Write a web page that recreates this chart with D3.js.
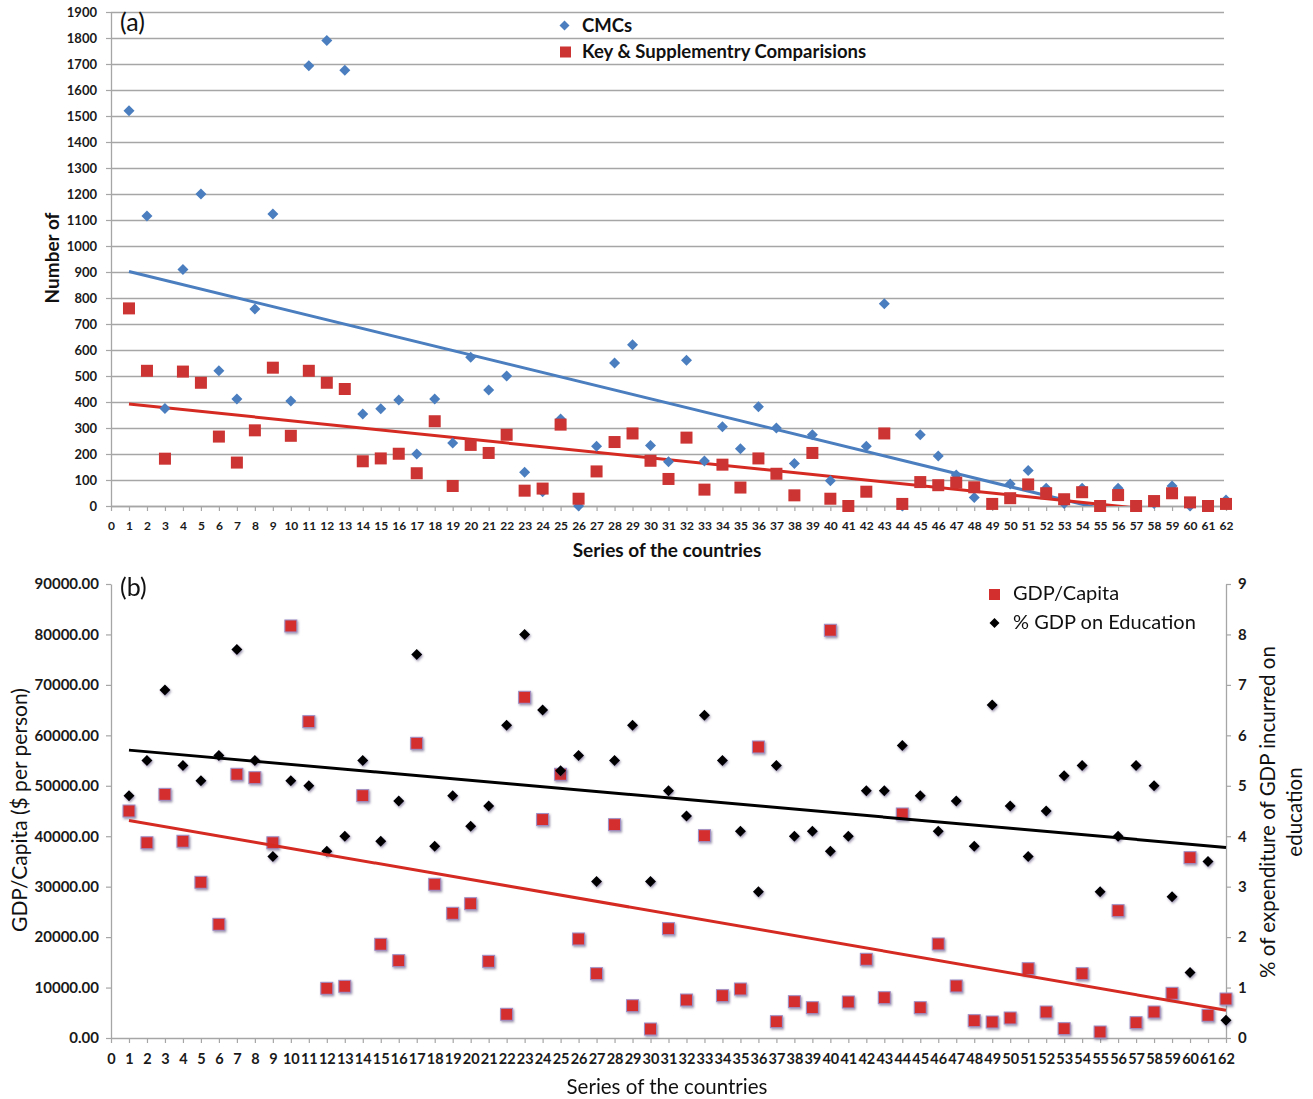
<!DOCTYPE html>
<html>
<head>
<meta charset="utf-8">
<script src="https://cdn.jsdelivr.net/npm/d3@7/dist/d3.min.js"></script>
<style>
  body { margin: 0; background: #ffffff; }
  svg { display: block; font-family: Lato, "Open Sans", sans-serif; }
</style>
</head>
<body>
<script>
// ---------- DATA ----------
const countries = d3.range(1, 63);            // series of the countries 1..62
const xTickValues = d3.range(0, 63);

// Panel (a)
const cmcs = [1520,1115,375,910,1200,520,412,758,1123,404,
              1693,1790,1676,354,374,408,200,412,242,572,
              446,500,130,55,335,0,230,550,620,233,
              170,561,173,305,220,382,300,163,274,97,
              0,230,778,0,274,192,119,33,10,85,
              137,68,10,68,0,68,0,10,77,0,
              0,23];
const keyComparisons = [760,520,182,517,474,267,167,291,532,270,
              520,474,450,172,183,201,126,326,77,235,
              204,274,59,67,313,28,133,246,279,174,
              104,263,63,159,71,183,124,41,204,28,
              0,55,279,8,92,80,90,72,8,30,
              83,49,26,53,0,42,0,19,49,14,
              0,8];
const topYTicks = d3.range(0, 2000, 100);

// Panel (b)
const gdpPerCapita = [45000,38700,48300,39000,30870,22540,52280,51600,38700,81680,
              62710,9850,10250,48040,18580,15330,58420,30470,24720,26620,
              15200,4700,67540,43300,52280,19630,12750,42290,6400,1780,
              21670,7530,40110,8390,9710,57690,3230,7200,6010,80830,
              7140,15600,7990,44410,6010,18640,10310,3430,3170,3965,
              13740,5150,1850,12750,1190,25240,3040,5150,8860,35750,
              4500,7730];
const eduPct = [4.8,5.5,6.9,5.4,5.1,5.6,7.7,5.5,3.6,5.1,
              5.0,3.7,4.0,5.5,3.9,4.7,7.6,3.8,4.8,4.2,
              4.6,6.2,8.0,6.5,5.3,5.6,3.1,5.5,6.2,3.1,
              4.9,4.4,6.4,5.5,4.1,2.9,5.4,4.0,4.1,3.7,
              4.0,4.9,4.9,5.8,4.8,4.1,4.7,3.8,6.6,4.6,
              3.6,4.5,5.2,5.4,2.9,4.0,5.4,5.0,2.8,1.3,
              3.5,0.35];
const gdpTicks = d3.range(0, 100000, 10000);
const pctTicks = d3.range(0, 10, 1);

const legendA = ["CMCs", "Key & Supplementry Comparisions"];
const legendB = ["GDP/Capita", "% GDP on Education"];

// ---------- HELPERS ----------
function linearFit(xs, ys) {
  const mx = d3.mean(xs), my = d3.mean(ys);
  let sxy = 0, sxx = 0;
  xs.forEach((x, i) => { sxy += (x - mx) * (ys[i] - my); sxx += (x - mx) * (x - mx); });
  const b = sxy / sxx;
  return x => my + b * (x - mx);
}

const GRID = "#a6a6a6";
const BLUE = "#4a7ebf";
const RED = "#cc3333";
const RED2 = "#d42a22";

const svg = d3.select("body").append("svg").attr("width", 1313).attr("height", 1099);
const defs = svg.append("defs");
const sh = defs.append("filter").attr("id", "shadow").attr("x", "-50%").attr("y", "-50%").attr("width", "200%").attr("height", "200%");
sh.append("feDropShadow").attr("dx", 1).attr("dy", 1.5).attr("stdDeviation", 1)
  .attr("flood-color", "#4a3a6a").attr("flood-opacity", 0.55);

function styleAxis(g, fontSize, weight) {
  g.selectAll(".domain").attr("stroke", GRID).attr("stroke-width", 1.3);
  g.selectAll(".tick line").attr("stroke", GRID).attr("stroke-width", 1.2);
  g.selectAll(".tick text").attr("fill", "#1a1a1a").style("font-size", fontSize + "px")
    .style("font-weight", weight).style("font-family", "Lato, sans-serif");
}

function diamond(sel, x, y, half, fill) {
  const s = half * Math.SQRT2;
  sel.append("rect").attr("x", -s / 2).attr("y", -s / 2).attr("width", s).attr("height", s)
    .attr("transform", `translate(${x},${y}) rotate(45)`).attr("fill", fill);
}

// ---------- PANEL (a) ----------
const xA = d3.scaleLinear().domain([0, 62]).range([111, 1226]);
const yA = d3.scaleLinear().domain([0, 1900]).range([506, 12]);
const gA = svg.append("g");

// gridlines
gA.append("g").attr("transform", `translate(${xA(0)},0)`)
  .call(d3.axisLeft(yA).tickValues(topYTicks).tickSize(-(1224 - 111)).tickFormat(""))
  .call(g => { g.select(".domain").remove(); g.selectAll(".tick line").attr("stroke", GRID).attr("stroke-width", 1.4); });

// y axis
gA.append("g").attr("transform", `translate(${xA(0)},0)`)
  .call(d3.axisLeft(yA).tickValues(topYTicks).tickSize(5).tickSizeOuter(0).tickPadding(9).tickFormat(d3.format("d")))
  .call(g => styleAxis(g, 13, "bold"));

// x axis
gA.append("g").attr("transform", `translate(0,${yA(0)})`)
  .call(d3.axisBottom(xA).tickValues(xTickValues).tickSize(5).tickSizeOuter(0).tickPadding(10).tickFormat(d3.format("d")))
  .call(g => styleAxis(g, 12, "bold"));

// trendlines (clipped to plot area)
defs.append("clipPath").attr("id", "clipA").append("rect")
  .attr("x", xA(0)).attr("y", yA(1900)).attr("width", xA(62) - xA(0)).attr("height", yA(0) - yA(1900));
const fitCmc = linearFit(countries, cmcs);
const fitKey = linearFit(countries, keyComparisons);
const lineA = f => d3.line().x(d => xA(d)).y(d => yA(f(d)))([1, 62]);
gA.append("path").attr("d", lineA(fitCmc)).attr("stroke", BLUE).attr("stroke-width", 3).attr("fill", "none").attr("clip-path", "url(#clipA)");
gA.append("path").attr("d", lineA(fitKey)).attr("stroke", RED2).attr("stroke-width", 3).attr("fill", "none").attr("clip-path", "url(#clipA)");

// markers
const cmcG = gA.append("g");
countries.forEach((c, i) => diamond(cmcG, xA(c), yA(cmcs[i]), 5.5, BLUE));
gA.append("g").selectAll("rect").data(countries).join("rect")
  .attr("x", d => xA(d) - 6).attr("y", (d, i) => yA(keyComparisons[i]) - 6)
  .attr("width", 12).attr("height", 12).attr("fill", RED);

// labels
gA.append("text").attr("x", 120).attr("y", 31).text("(a)").style("font-size", "25px").attr("fill", "#111");
gA.append("text").attr("x", 667).attr("y", 557).attr("text-anchor", "middle").text("Series of the countries")
  .style("font-size", "19px").style("font-weight", "bold").attr("fill", "#111");
gA.append("text").attr("transform", "translate(59,258) rotate(-90)").attr("text-anchor", "middle").text("Number of")
  .style("font-size", "19px").style("font-weight", "bold").attr("fill", "#111");

// legend
diamond(gA, 564.5, 25.5, 5, BLUE);
gA.append("rect").attr("x", 560).attr("y", 46.5).attr("width", 11).attr("height", 11).attr("fill", RED);
gA.append("text").attr("x", 582).attr("y", 31.5).text(legendA[0]).style("font-size", "18.5px").style("font-weight", "bold").attr("fill", "#111");
gA.append("text").attr("x", 582).attr("y", 58).text(legendA[1]).style("font-size", "18.5px").style("font-weight", "bold").attr("fill", "#111");

// ---------- PANEL (b) ----------
const xB = d3.scaleLinear().domain([0, 62]).range([111, 1226]);
const yB = d3.scaleLinear().domain([0, 90000]).range([1038, 584]);
const yB2 = d3.scaleLinear().domain([0, 9]).range([1038, 584]);
const gB = svg.append("g");

gB.append("g").attr("transform", `translate(${xB(0)},0)`)
  .call(d3.axisLeft(yB).tickValues(gdpTicks).tickSize(5).tickSizeOuter(0).tickPadding(7).tickFormat(d3.format(".2f")))
  .call(g => styleAxis(g, 15, "bold"));
gB.append("g").attr("transform", `translate(${xB(62)},0)`)
  .call(d3.axisRight(yB2).tickValues(pctTicks).tickSize(5).tickSizeOuter(0).tickPadding(7).tickFormat(d3.format("d")))
  .call(g => styleAxis(g, 15, "bold"));
gB.append("g").attr("transform", `translate(0,${yB(0)})`)
  .call(d3.axisBottom(xB).tickValues(xTickValues).tickSize(5).tickSizeOuter(0).tickPadding(11).tickFormat(d3.format("d")))
  .call(g => styleAxis(g, 14.5, "bold"));

// markers: squares then diamonds
gB.append("g").attr("filter", "url(#shadow)").selectAll("rect").data(countries).join("rect")
  .attr("x", d => xB(d) - 6).attr("y", (d, i) => yB(gdpPerCapita[i]) - 6)
  .attr("width", 12).attr("height", 12).attr("fill", "#d42f2f").attr("stroke", "#9d90c8").attr("stroke-width", 1);
const eduG = gB.append("g").attr("filter", "url(#shadow)");
countries.forEach((c, i) => diamond(eduG, xB(c), yB2(eduPct[i]), 5.5, "#000"));

// trendlines
const fitGdp = linearFit(countries, gdpPerCapita);
const fitEdu = linearFit(countries, eduPct);
gB.append("path").attr("d", d3.line().x(d => xB(d)).y(d => yB2(fitEdu(d)))([1, 62]))
  .attr("stroke", "#000").attr("stroke-width", 3).attr("fill", "none");
gB.append("path").attr("d", d3.line().x(d => xB(d)).y(d => yB(fitGdp(d)))([1, 62]))
  .attr("stroke", RED2).attr("stroke-width", 3).attr("fill", "none");

// labels
gB.append("text").attr("x", 120).attr("y", 596).text("(b)").style("font-size", "25px").attr("fill", "#111");
gB.append("text").attr("x", 667).attr("y", 1094).attr("text-anchor", "middle").text("Series of the countries")
  .style("font-size", "20.5px").attr("fill", "#111");
gB.append("text").attr("transform", "translate(27,810) rotate(-90)").attr("text-anchor", "middle").text("GDP/Capita ($ per person)")
  .style("font-size", "21px").attr("fill", "#111");
const rt = gB.append("text").attr("transform", "translate(1275,812) rotate(-90)").attr("text-anchor", "middle")
  .style("font-size", "20.5px").attr("fill", "#111");
rt.append("tspan").attr("x", 0).attr("y", 0).text("% of expenditure of GDP incurred on");
rt.append("tspan").attr("x", 0).attr("y", 27).text("education");

// legend
gB.append("rect").attr("x", 989).attr("y", 589).attr("width", 11).attr("height", 11).attr("fill", "#d42f2f");
diamond(gB, 994.5, 623, 5, "#000");
gB.append("text").attr("x", 1013).attr("y", 600).text(legendB[0]).style("font-size", "20px").attr("fill", "#111");
gB.append("text").attr("x", 1013).attr("y", 629).text(legendB[1]).style("font-size", "20px").attr("fill", "#111");
</script>
</body>
</html>
